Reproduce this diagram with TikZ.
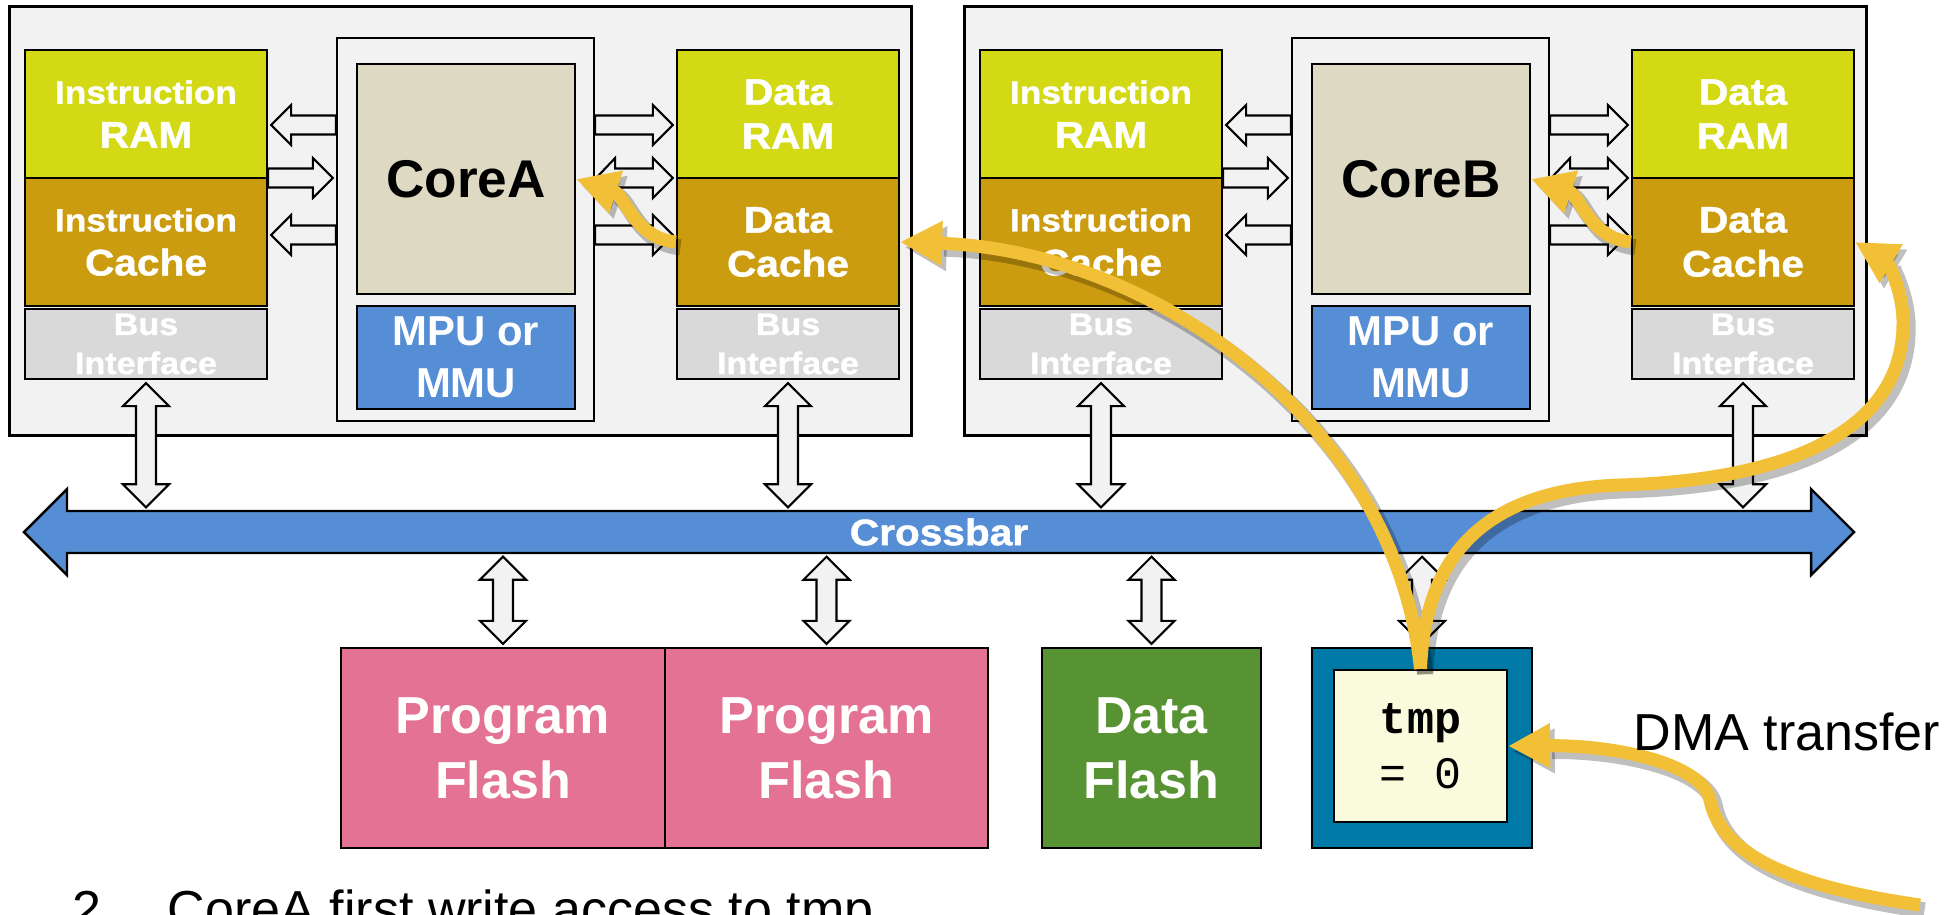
\documentclass[tikz,border=0pt]{standalone}
\usepackage{fontspec}
\setmainfont{Liberation Sans}
\setmonofont{Liberation Mono}
\newfontfamily\heavyfont[FakeStretch=1.1,FakeBold=1.2]{Liberation Sans}
\usetikzlibrary{calc,arrows.meta}
\definecolor{ramgreen}{HTML}{D4D915}
\definecolor{cachegold}{HTML}{CC9C10}
\definecolor{busgray}{HTML}{D9D9D9}
\definecolor{panelgray}{HTML}{F2F2F2}
\definecolor{corebeige}{HTML}{DDD9C3}
\definecolor{mmublue}{HTML}{558ED5}
\definecolor{flashpink}{HTML}{E47294}
\definecolor{flashgreen}{HTML}{589333}
\definecolor{tmpblue}{HTML}{0079A6}
\definecolor{tmpcream}{HTML}{FAFADC}
\definecolor{flowyellow}{HTML}{F2C037}
\newcommand\instr{{\fontsize{9.1}{12.5}\selectfont Instruction}}
\tikzset{
  unit/.style={draw, line width=.6pt, inner sep=0pt, align=center, text=white},
  heavy/.style={font=\heavyfont\bfseries\fontsize{10.5}{12.5}\selectfont},
  rambox/.style={unit, heavy, fill=ramgreen, minimum height=1.28cm},
  cachebox/.style={unit, heavy, fill=cachegold, minimum height=1.28cm},
  busbox/.style={unit, fill=busgray, minimum height=.7cm,
    font=\heavyfont\bfseries\fontsize{8.8}{11.1}\selectfont},
  memory/.style={unit, minimum height=2cm, font=\bfseries\fontsize{14.8}{18.5}\selectfont},
  blk/.style={draw, line width=.6pt, fill=panelgray},
  % block arrow pointing right (start left, tip at target)
  rblk/.style={blk, to path={let \p1=(\tikztostart), \p2=(\tikztotarget) in
    (\x1,\y1+0.095cm) -- (\x2-0.23cm,\y1+0.095cm) -- (\x2-0.23cm,\y1+0.2cm) -- (\x2-0.03cm,\y1)
    -- (\x2-0.23cm,\y1-0.2cm) -- (\x2-0.23cm,\y1-0.095cm) -- (\x1,\y1-0.095cm) -- cycle}},
  % block arrow pointing left (start right, tip at target)
  lblk/.style={blk, to path={let \p1=(\tikztostart), \p2=(\tikztotarget) in
    (\x1,\y1+0.095cm) -- (\x2+0.23cm,\y1+0.095cm) -- (\x2+0.23cm,\y1+0.2cm) -- (\x2+0.03cm,\y1)
    -- (\x2+0.23cm,\y1-0.2cm) -- (\x2+0.23cm,\y1-0.095cm) -- (\x1,\y1-0.095cm) -- cycle}},
  % two headed, horizontal
  dblk/.style={blk, to path={let \p1=(\tikztostart), \p2=(\tikztotarget) in
    (\x1+0.01cm,\y1) -- (\x1+0.2cm,\y1+0.2cm) -- (\x1+0.2cm,\y1+0.095cm) -- (\x2-0.23cm,\y1+0.095cm)
    -- (\x2-0.23cm,\y1+0.2cm) -- (\x2-0.03cm,\y1) -- (\x2-0.23cm,\y1-0.2cm) -- (\x2-0.23cm,\y1-0.095cm)
    -- (\x1+0.2cm,\y1-0.095cm) -- (\x1+0.2cm,\y1-0.2cm) -- cycle}},
  % two headed, vertical (start on top)
  vblk/.style={blk, to path={let \p1=(\tikztostart), \p2=(\tikztotarget) in
    (\x1,\y1-0.03cm) -- (\x1+0.23cm,\y1-0.26cm) -- (\x1+0.1cm,\y1-0.26cm) -- (\x1+0.1cm,\y2+0.26cm)
    -- (\x1+0.23cm,\y2+0.26cm) -- (\x1,\y2+0.03cm) -- (\x1-0.23cm,\y2+0.26cm) -- (\x1-0.1cm,\y2+0.26cm)
    -- (\x1-0.1cm,\y1-0.26cm) -- (\x1-0.23cm,\y1-0.26cm) -- cycle}},
  flow/.style={draw=flowyellow, line width=3.7pt, -{Triangle[length=4.2mm,width=4.2mm]},
    preaction={draw=black, opacity=.25, line width=4.6pt,
      transform canvas={shift={(1.3pt,-1.5pt)}}}}
}

\begin{document}
\begin{tikzpicture}[x=0.01cm,y=-0.01cm]
\useasboundingbox (0,0) rectangle (1960,914);

% crossbar
\draw[line width=.7pt, fill=mmublue] (67,511) -- (1811,511) -- (1811,489) -- (1854,532) -- (1811,575)
  -- (1811,553) -- (67,553) -- (67,575) -- (24,532) -- (67,489) -- cycle;
\node[heavy, text=white, inner sep=0pt, minimum width=17.44cm, minimum height=.42cm] (xbar) at (939,532) {Crossbar};

% the two cores
\foreach \cx/\id/\lbl in {0/A/CoreA,955/B/CoreB} {
  \node[unit, line width=.9pt, fill=panelgray, minimum width=9.01cm, minimum height=4.28cm] (box\id) at (\cx+460.5,221) {};
  \node[rambox, minimum width=2.42cm] (iram\id) at (\cx+146,114) {\instr\\RAM};
  \node[cachebox, minimum width=2.42cm] (icache\id) at (\cx+146,242) {\instr\\Cache};
  \node[busbox, minimum width=2.42cm] (ibus\id) at (\cx+146,344) {Bus\\Interface};
  \node[unit, fill=panelgray, minimum width=2.57cm, minimum height=3.83cm] (frame\id) at (\cx+465.5,229.5) {};
  \node[unit, fill=corebeige, text=black, font=\bfseries\fontsize{15.1}{18}\selectfont,
    minimum width=2.18cm, minimum height=2.3cm] (core\id) at (\cx+466,179) {\lbl};
  \node[unit, fill=mmublue, font=\bfseries\fontsize{11.9}{14.8}\selectfont,
    minimum width=2.18cm, minimum height=1.03cm] (mpu\id) at (\cx+466,357.5) {MPU or\\MMU};
  \node[rambox, minimum width=2.22cm] (dram\id) at (\cx+788,114) {Data\\RAM};
  \node[cachebox, minimum width=2.22cm] (dcache\id) at (\cx+788,242) {Data\\Cache};
  \node[busbox, minimum width=2.22cm] (dbus\id) at (\cx+788,344) {Bus\\Interface};
  \draw[lblk] (frame\id.west |- 0,125) to (iram\id.east |- 0,125);
  \draw[rblk] (iram\id.east |- 0,178) to (frame\id.west |- 0,178);
  \draw[lblk] (frame\id.west |- 0,235) to (icache\id.east |- 0,235);
  \draw[rblk] (frame\id.east |- 0,125) to (dram\id.west |- 0,125);
  \draw[dblk] (frame\id.east |- 0,178) to (dram\id.west |- 0,178);
  \draw[rblk] (frame\id.east |- 0,235) to (dcache\id.west |- 0,235);
  \draw[vblk] (ibus\id.south) to (ibus\id.south |- xbar.north);
  \draw[vblk] (dbus\id.south) to (dbus\id.south |- xbar.north);
}

% memories
\node[memory, fill=flashpink, minimum width=3.24cm] (pf1) at (503,748) {Program\\Flash};
\node[memory, fill=flashpink, minimum width=3.23cm] (pf2) at (826.5,748) {Program\\Flash};
\node[memory, fill=flashgreen, minimum width=2.19cm] (df) at (1151.5,748) {Data\\Flash};
\node[memory, fill=tmpblue, minimum width=2.2cm] (tmpbox) at (1422,748) {};
\node[unit, fill=tmpcream, text=black, font=\ttfamily\fontsize{12.8}{15.6}\selectfont,
  minimum width=1.73cm, minimum height=1.52cm] (tmpin) at (1420.5,746) {\textbf{tmp}\\= 0};
\foreach \m in {pf1,pf2,df,tmpbox}
  \draw[vblk] (xbar.south -| \m.north) to (\m.north);

% accesses
\draw[flow] (tmpin.north) .. controls (1395,420) and (1150,250) .. (dcacheA.east);
\draw[flow] (tmpin.north) .. controls (1425,560) and (1480,490) .. (1620,485)
  .. controls (1790,480) and (1905,430) .. (1903,320) .. controls (1902,285) and (1885,260) .. (dcacheB.east);
\foreach \id in {A,B}
  \draw[flow] (dcache\id.west) .. controls +(-42,-4) and +(49,16) .. (core\id.east);
\coordinate (dmasrc) at (1920,905);
\draw[flow] (dmasrc) .. controls (1780,885) and (1720,850) .. (1710,800)
  .. controls (1703,765) and (1620,745) .. (tmpin.east);

\node[anchor=west, inner sep=0pt, font=\fontsize{14.8}{17}\selectfont] (dma) at (1633,732) {DMA transfer};
\node[anchor=base west, inner sep=0pt, font=\fontsize{14.8}{17}\selectfont] (note) at (72,927)
  {\makebox[0.95cm][l]{2.}CoreA first write access to tmp};
\end{tikzpicture}
\end{document}
